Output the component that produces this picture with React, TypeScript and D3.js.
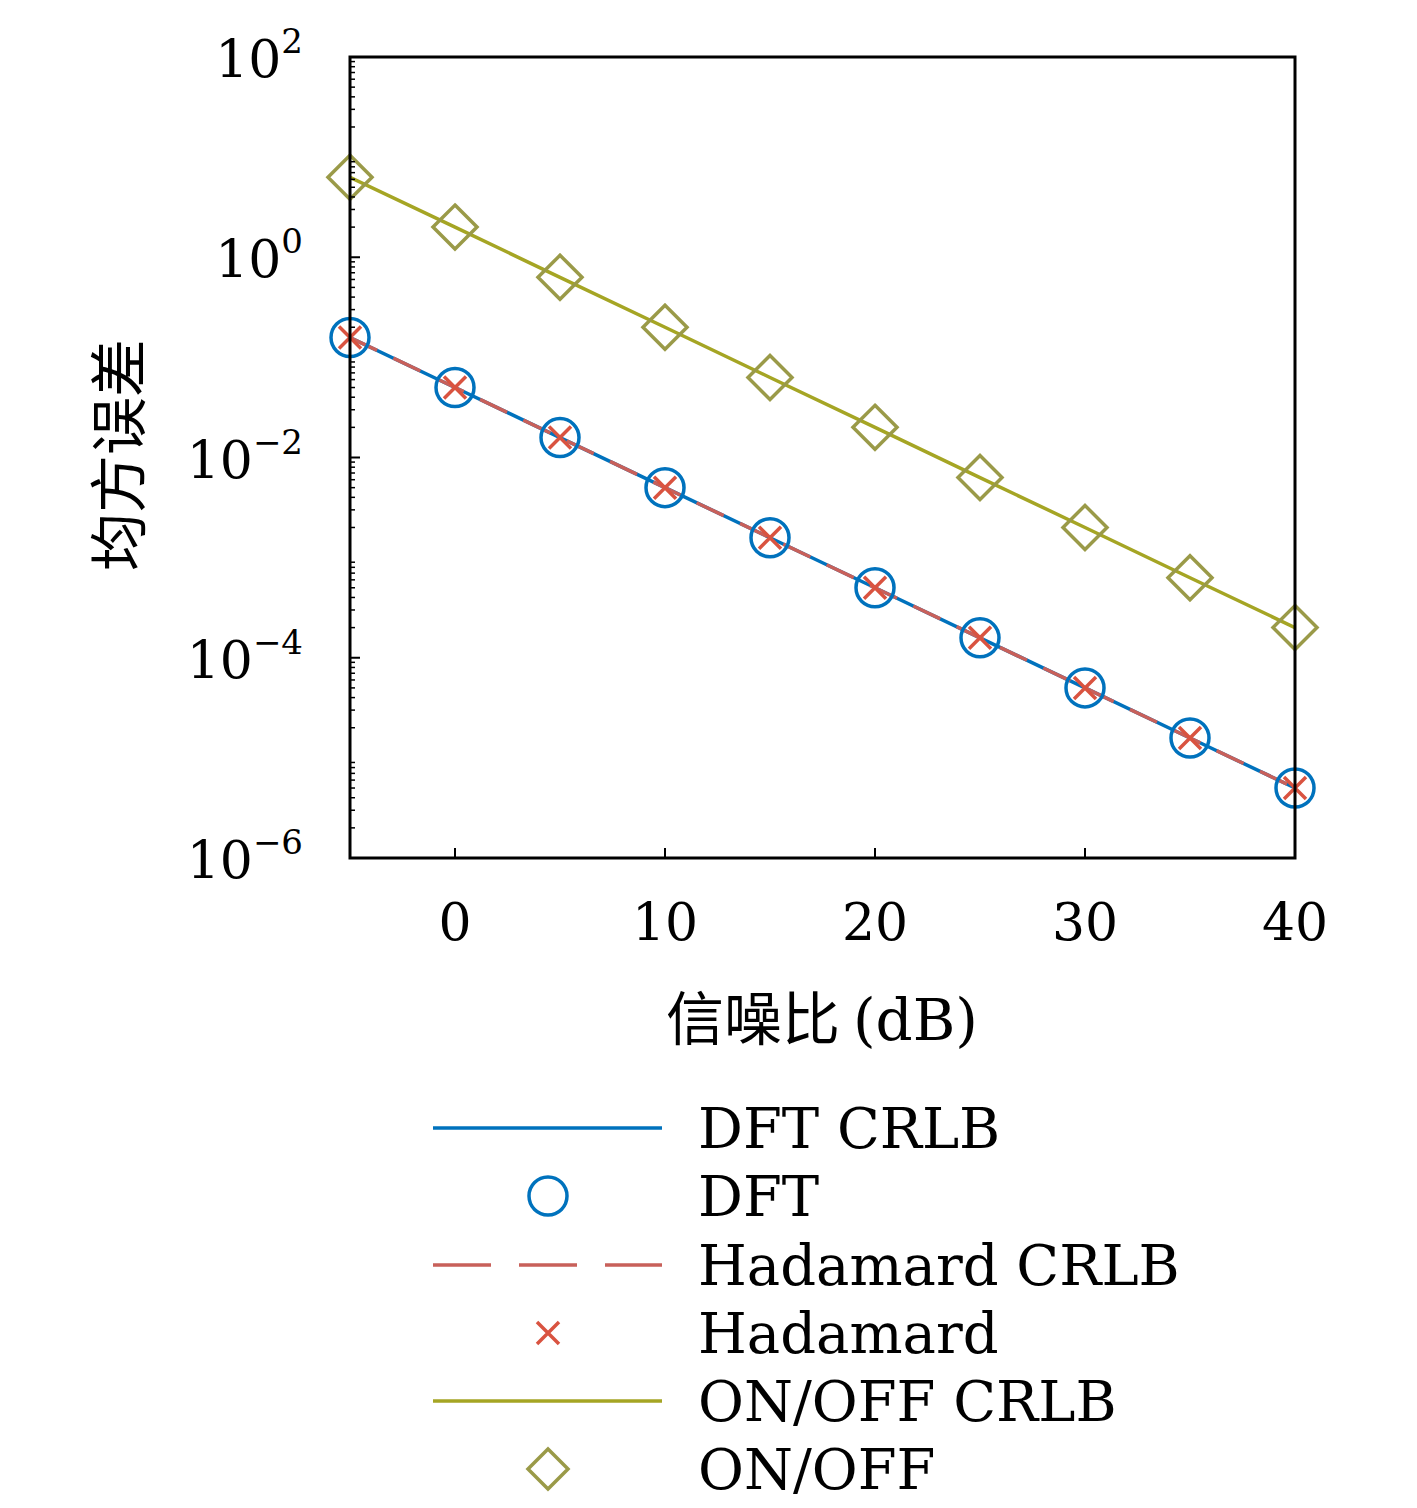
import React from 'react';
import * as d3 from 'd3';

const snr = [-5, 0, 5, 10, 15, 20, 25, 30, 35, 40];
const dftCrlb = [0.158, 0.05, 0.0158, 0.005, 0.00158, 0.0005, 0.000158, 0.00005, 0.0000158, 0.000005];
const dft = [0.158, 0.05, 0.0158, 0.005, 0.00158, 0.0005, 0.000158, 0.00005, 0.0000158, 0.000005];
const hadCrlb = [0.158, 0.05, 0.0158, 0.005, 0.00158, 0.0005, 0.000158, 0.00005, 0.0000158, 0.000005];
const had = [0.158, 0.05, 0.0158, 0.005, 0.00158, 0.0005, 0.000158, 0.00005, 0.0000158, 0.000005];
const onoffCrlb = [6.3, 2, 0.63, 0.2, 0.063, 0.02, 0.0063, 0.002, 0.00063, 0.0002];
const onoff = [6.3, 2, 0.63, 0.2, 0.063, 0.02, 0.0063, 0.002, 0.00063, 0.0002];
const xTicks = [0, 10, 20, 30, 40];
const yExps = [-6, -4, -2, 0, 2];
const legendLabels = ['DFT CRLB', 'DFT', 'Hadamard CRLB', 'Hadamard', 'ON/OFF CRLB', 'ON/OFF'];

const BLUE = '#0072BD';
const RED = '#D95340';
const REDLINE = '#C8605A';
const OLIVE = '#A5A524';
const OLIVEM = '#9A9A48';
const SERIF = '"DejaVu Serif", "Liberation Serif", serif';
const CJK = '"Noto Sans CJK SC", sans-serif';

const L = 350, R = 1295, T = 57, B = 858;

export default function App() {
  const x = d3.scaleLinear().domain([-5, 40]).range([L, R]);
  const y = d3.scaleLog().domain([1e-6, 1e2]).range([B, T]);
  const line = (vals: number[]) =>
    d3.line<number>().x((_, i) => x(snr[i])).y(d => y(d))(vals) || '';

  const minor: number[] = [];
  for (let e = -6; e < 2; e++) for (let m = 2; m <= 9; m++) minor.push(m * Math.pow(10, e));

  const cross = (cx: number, cy: number, s: number, k: string) => (
    <path key={k} d={`M${cx - s},${cy - s}L${cx + s},${cy + s}M${cx - s},${cy + s}L${cx + s},${cy - s}`}
      stroke={RED} strokeWidth={3.5} />
  );
  const diamond = (cx: number, cy: number, s: number, k: string) => (
    <path key={k} d={`M${cx},${cy - s}L${cx + s},${cy}L${cx},${cy + s}L${cx - s},${cy}Z`}
      fill="none" stroke={OLIVEM} strokeWidth={3.5} />
  );

  const legY = [1128, 1196, 1265, 1333, 1401, 1469];

  return (
    <svg width={1417} height={1508} style={{ display: 'block', position: 'absolute', left: 0, top: 0, background: '#fff' }}>
      <rect x={0} y={0} width={1417} height={1508} fill="#fff" />
      <defs><clipPath id="clip"><rect x={L} y={T} width={R - L} height={B - T} /></clipPath></defs>
      <g clipPath="url(#clip)">
        <path d={line(dftCrlb)} fill="none" stroke={BLUE} strokeWidth={3.5} />
        <path d={line(hadCrlb)} fill="none" stroke={REDLINE} strokeWidth={3.5} strokeDasharray="30,18" />
        <path d={line(onoffCrlb)} fill="none" stroke={OLIVE} strokeWidth={3.5} />
      </g>
      {dft.map((v, i) => <circle key={'c' + i} cx={x(snr[i])} cy={y(v)} r={19} fill="none" stroke={BLUE} strokeWidth={3.5} />)}
      {had.map((v, i) => cross(x(snr[i]), y(v), 11, 'x' + i))}
      {onoff.map((v, i) => diamond(x(snr[i]), y(v), 22, 'd' + i))}

      <rect x={L} y={T} width={R - L} height={B - T} fill="none" stroke="#000" strokeWidth={3} />
      {xTicks.map(t => <line key={'xt' + t} x1={x(t)} x2={x(t)} y1={B} y2={B - 10} stroke="#000" strokeWidth={2} />)}
      {yExps.map(e => <line key={'yt' + e} x1={L} x2={L + 10} y1={y(Math.pow(10, e))} y2={y(Math.pow(10, e))} stroke="#000" strokeWidth={2} />)}
      {minor.map((v, i) => <line key={'ym' + i} x1={L} x2={L + 5} y1={y(v)} y2={y(v)} stroke="#000" strokeWidth={1.5} />)}

      {xTicks.map(t => (
        <text key={'xl' + t} x={x(t)} y={940} textAnchor="middle" fontFamily={SERIF} fontSize={52}>{t}</text>
      ))}
      {yExps.map(e => (
        <text key={'yl' + e} x={303} y={y(Math.pow(10, e)) + 20} textAnchor="end" fontFamily={SERIF} fontSize={52}>
          10<tspan dy={-24} fontSize={34}>{e < 0 ? '\u2212' + -e : e}</tspan>
        </text>
      ))}

      <text x={822} y={1040} textAnchor="middle" fontSize={58}>
        <tspan fontFamily={CJK}>信噪比 </tspan><tspan fontFamily={SERIF}>(dB)</tspan>
      </text>
      <text transform="translate(140,455) rotate(-90)" textAnchor="middle" fontFamily={CJK} fontSize={58}>均方误差</text>

      <line x1={433} x2={662} y1={legY[0]} y2={legY[0]} stroke={BLUE} strokeWidth={3.5} />
      <circle cx={548} cy={legY[1]} r={19} fill="none" stroke={BLUE} strokeWidth={3.5} />
      <line x1={433} x2={662} y1={legY[2]} y2={legY[2]} stroke={REDLINE} strokeWidth={3.5} strokeDasharray="58,28" />
      {cross(548, legY[3], 11, 'lx')}
      <line x1={433} x2={662} y1={legY[4]} y2={legY[4]} stroke={OLIVE} strokeWidth={3.5} />
      {diamond(548, legY[5], 20, 'ld')}
      {legendLabels.map((s, i) => (
        <text key={s} x={698} y={legY[i] + 20} fontFamily={SERIF} fontSize={56}>{s}</text>
      ))}
    </svg>
  );
}
